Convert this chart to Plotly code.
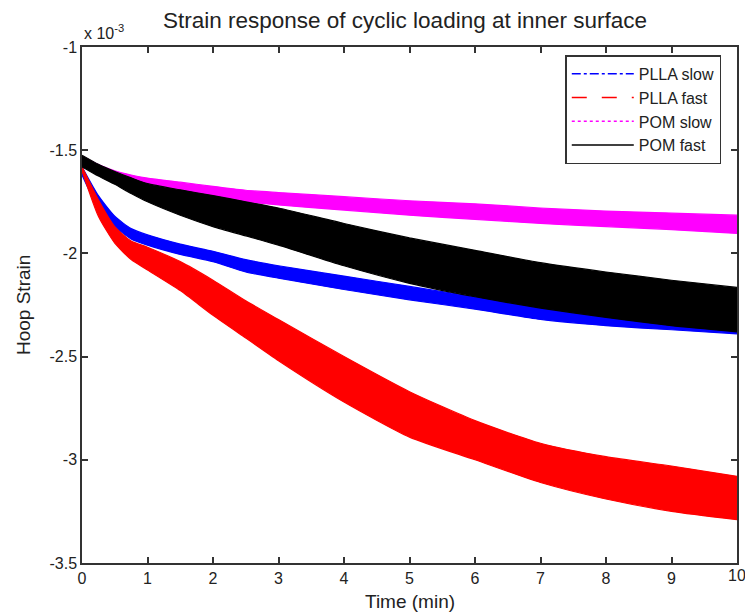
import plotly.graph_objects as go

# Time samples (min) at which band envelopes were read
time_min = [0, 0.25, 0.5, 0.75, 1, 1.5, 2, 2.5, 3, 4, 5, 6, 7, 8, 9, 10]

# Hoop strain envelopes (x 10^-3): upper / lower edge of the cyclic band
plla_slow_upper = [-1.58, -1.72, -1.82, -1.88, -1.91, -1.955, -1.99, -2.03, -2.06, -2.11, -2.16, -2.21, -2.26, -2.29, -2.32, -2.34]
plla_slow_lower = [-1.62, -1.78, -1.87, -1.93, -1.96, -2.005, -2.04, -2.09, -2.12, -2.175, -2.225, -2.27, -2.32, -2.35, -2.37, -2.39]

plla_fast_upper = [-1.58, -1.74, -1.87, -1.94, -1.97, -2.04, -2.13, -2.23, -2.32, -2.50, -2.67, -2.81, -2.92, -2.985, -3.03, -3.08]
plla_fast_lower = [-1.60, -1.82, -1.95, -2.03, -2.08, -2.18, -2.30, -2.41, -2.52, -2.72, -2.89, -3.00, -3.11, -3.19, -3.25, -3.29]

pom_slow_upper = [-1.53, -1.57, -1.60, -1.62, -1.635, -1.655, -1.675, -1.694, -1.705, -1.725, -1.745, -1.76, -1.78, -1.795, -1.805, -1.815]
pom_slow_lower = [-1.56, -1.60, -1.635, -1.66, -1.68, -1.71, -1.73, -1.75, -1.765, -1.79, -1.815, -1.835, -1.855, -1.87, -1.885, -1.903]

pom_fast_upper = [-1.524, -1.568, -1.603, -1.634, -1.662, -1.692, -1.72, -1.75, -1.78, -1.855, -1.925, -1.985, -2.045, -2.09, -2.13, -2.165]
pom_fast_lower = [-1.58, -1.625, -1.665, -1.71, -1.75, -1.815, -1.87, -1.915, -1.96, -2.06, -2.145, -2.21, -2.265, -2.31, -2.35, -2.38]

series_names = ["PLLA slow", "PLLA fast", "POM slow", "POM fast"]
series_colors = ["#0000ff", "#ff0000", "#ff00ff", "#000000"]
series_dash = ["dashdot", "longdash", "dot", "solid"]
uppers = [plla_slow_upper, plla_fast_upper, pom_slow_upper, pom_fast_upper]
lowers = [plla_slow_lower, plla_fast_lower, pom_slow_lower, pom_fast_lower]

x_ticks = list(range(0, 11))
y_ticks = [-3.5, -3, -2.5, -2, -1.5, -1]
y_ticktext = ["-3.5", "-3", "-2.5", "-2", "-1.5", "-1"]

FONT = "Liberation Sans, Arial, sans-serif"
TXT = "#222222"
fig = go.Figure()

# bands (data), drawn in MATLAB plotting order so POM fast is on top
for name, col, up, lo in zip(series_names, series_colors, uppers, lowers):
    edge = dict(color=col, width=1.2, shape="spline", smoothing=0.6)
    fig.add_trace(go.Scatter(x=time_min, y=up, mode="lines", line=edge,
                             showlegend=False, hoverinfo="skip"))
    fig.add_trace(go.Scatter(x=time_min, y=lo, mode="lines", line=edge,
                             fill="tonexty", fillcolor=col,
                             showlegend=False, hoverinfo="skip"))

# legend entries
for name, col, dash in zip(series_names, series_colors, series_dash):
    fig.add_trace(go.Scatter(
        x=[None], y=[None], mode="lines", name=name,
        line=dict(color=col, dash=dash, width=1.5)))

axis_common = dict(showline=True, linecolor="#333333", linewidth=1.5, mirror="ticks",
                   ticks="inside", ticklen=6, tickcolor="#333333", tickwidth=1.5,
                   showgrid=False, zeroline=False, automargin=False,
                   tickfont=dict(family=FONT, size=16, color=TXT))

fig.update_layout(
    width=745, height=613,
    margin=dict(l=82, r=8, t=47, b=50),
    paper_bgcolor="white", plot_bgcolor="white",
    xaxis=dict(range=[0, 10], tickvals=x_ticks, ticktext=[str(v) for v in x_ticks],
               **axis_common),
    yaxis=dict(range=[-3.5, -1], tickvals=y_ticks, ticktext=y_ticktext,
               **axis_common),
    legend=dict(x=0.976, y=0.984, xanchor="right", yanchor="top",
                bordercolor="#333333", borderwidth=1.5, bgcolor="white",
                font=dict(family=FONT, size=16, color=TXT),
                traceorder="normal", tracegroupgap=4, itemwidth=62),
    showlegend=True,
)

# last x tick label, which plotly drops because it overflows the right edge
fig.add_annotation(text=str(x_ticks[-1]), xref="x", yref="paper", x=x_ticks[-1], y=0,
                   xanchor="center", yanchor="top", yshift=-2, showarrow=False,
                   font=dict(family=FONT, size=16, color=TXT))

# title and axis titles as paper annotations for exact placement
fig.add_annotation(text="Strain response of cyclic loading at inner surface",
                   xref="paper", yref="paper", x=0.493, y=1, xanchor="center",
                   yanchor="bottom", yshift=12, showarrow=False,
                   font=dict(family=FONT, size=22.5, color=TXT))
fig.add_annotation(text="Time (min)", xref="paper", yref="paper", x=0.5, y=0,
                   xanchor="center", yanchor="top", yshift=-26, showarrow=False,
                   font=dict(family=FONT, size=19, color=TXT))
fig.add_annotation(text="Hoop Strain", xref="paper", yref="paper", x=0, y=0.5,
                   xanchor="center", yanchor="middle", xshift=-59, textangle=-90,
                   showarrow=False, font=dict(family=FONT, size=19, color=TXT))
fig.add_annotation(text="x 10<sup>-3</sup>", xref="paper", yref="paper",
                   x=0, y=1, xanchor="left", yanchor="bottom", yshift=3, showarrow=False,
                   font=dict(family=FONT, size=16, color=TXT))

fig.write_html("out.html")
